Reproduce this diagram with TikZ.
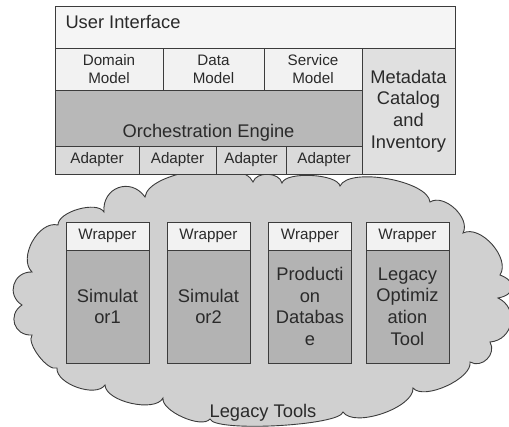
\documentclass[tikz,border=0pt]{standalone}
\usepackage{fontspec}
\setmainfont{Liberation Sans}
\definecolor{linec}{HTML}{3C3C3C}
\definecolor{txtc}{HTML}{2A2A2A}
\definecolor{uifill}{HTML}{F5F5F5}
\definecolor{modfill}{HTML}{F2F2F2}
\definecolor{orchfill}{HTML}{B8B8B8}
\definecolor{adfill}{HTML}{DADADA}
\definecolor{metafill}{HTML}{E0E0E0}
\definecolor{cloudfill}{HTML}{D0D0D0}
\definecolor{bodyfill}{HTML}{B3B3B3}
\definecolor{wrapfill}{HTML}{F2F2F2}
\begin{document}
\begin{tikzpicture}[x=1pt,y=-1pt,
  cell/.style={draw=linec, line width=0.9pt, inner sep=0pt, outer sep=0pt, align=center, text=txtc},
  bigtxt/.style={font=\fontsize{18.3}{21.7}\selectfont, text=txtc},
  smalltxt/.style={font=\fontsize{15.2}{18.3}\selectfont, text=txtc},
  cloudsty/.style={draw=linec, line width=0.9pt, fill=cloudfill},
  lobe/.style={bend left=75, looseness=#1}
]
\useasboundingbox (0,0) rectangle (509,426);
\clip (0,0) rectangle (509,426);
% cloud
\draw[cloudsty] (32,335)
  to[lobe=1.45] (22,305)
  to[lobe=1.4] (32,272)
  to[lobe=0.95] (58,225)
  to[lobe=0.72] (104,212)
  to[lobe=1.45] (145,197)
  to[lobe=0.62] (253,182)
  to[lobe=1.0] (282,183)
  to[lobe=0.55] (340,186)
  to[lobe=0.6] (430,202)
  to[lobe=0.95] (463,233)
  to[lobe=0.9] (500,275)
  to[lobe=2.0] (498,298)
  to[lobe=1.35] (490,342)
  to[lobe=1.25] (470,362)
  to[lobe=0.68] (413,388)
  to[lobe=0.68] (343,412)
  to[lobe=0.27] (210,419)
  to[lobe=0.65] (163,398)
  to[lobe=0.72] (105,385)
  to[lobe=0.8] (57,368)
  to[lobe=0.62] (32,335) -- cycle;
\node[bigtxt, anchor=base] (legacy) at (263,417) {Legacy Tools};

% top block
\node[cell, fill=uifill, minimum width=400pt, minimum height=42pt] (ui) at (255,27) {};
\path (ui.north west) ++(7,22) node[bigtxt, anchor=base west] (uit) {User Interface};
\node[cell, fill=modfill, minimum width=108pt, minimum height=42pt, smalltxt] (dom) at (109,69) {Domain\\Model};
\node[cell, fill=modfill, minimum width=101pt, minimum height=42pt, smalltxt] (dat) at (213.5,69) {Data\\Model};
\node[cell, fill=modfill, minimum width=98pt, minimum height=42pt, smalltxt] (ser) at (313,69) {Service\\Model};
\node[cell, fill=orchfill, minimum width=307pt, minimum height=56pt] (orch) at (208.5,118) {};
\path (orch.south) ++(0,-9) node[bigtxt, anchor=base] (orcht) {Orchestration Engine};
\node[cell, fill=adfill, minimum width=84pt, minimum height=28pt, smalltxt] (ad1) at (97,160) {Adapter};
\node[cell, fill=adfill, minimum width=77pt, minimum height=28pt, smalltxt] (ad2) at (177.5,160) {Adapter};
\node[cell, fill=adfill, minimum width=70pt, minimum height=28pt, smalltxt] (ad3) at (251,160) {Adapter};
\node[cell, fill=adfill, minimum width=76pt, minimum height=28pt, smalltxt] (ad4) at (324,160) {Adapter};
\node[cell, fill=metafill, minimum width=93pt, minimum height=126pt, bigtxt] (meta) at (408.5,111) {Metadata\\Catalog\\and\\Inventory};

% legacy tool boxes
\foreach \cx/\nm/\txt in {107.5/a/{Simulat\\or1}, 208.5/b/{Simulat\\or2}, 310/c/{Producti\\on\\Databas\\e}, 407.5/d/{Legacy\\Optimiz\\ation\\Tool}}{
  \node[cell, fill=wrapfill, minimum width=83pt, minimum height=28pt, smalltxt] (w\nm) at (\cx,236) {Wrapper};
  \node[cell, fill=bodyfill, minimum width=83pt, minimum height=113pt, bigtxt] (t\nm) at (\cx,306.5) {\txt};
}
\end{tikzpicture}
\end{document}
